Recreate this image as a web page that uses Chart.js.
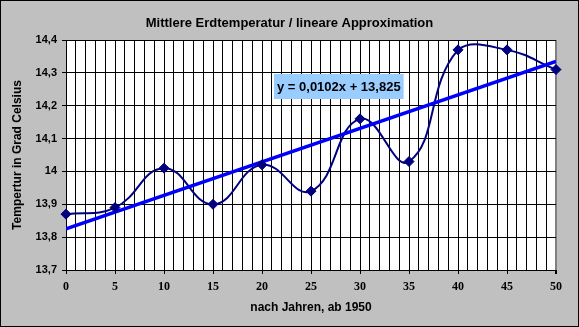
<!DOCTYPE html>
<html lang="de">
<head>
<meta charset="utf-8">
<title>Mittlere Erdtemperatur</title>
<script src="https://cdn.jsdelivr.net/npm/chart.js@4/dist/chart.umd.min.js"></script>
<style>
  html, body { margin: 0; padding: 0; background: #c0c0c0; }
  #wrap { width: 579px; height: 327px; position: relative; }
</style>
</head>
<body>
<div id="wrap"><canvas id="tempChart" width="579" height="327"></canvas></div>
<script>
// Jahre ab 1950 und gemessene Mittelwerte
const years = [0, 5, 10, 15, 20, 25, 30, 35, 40, 45, 50];
const temps = [13.87, 13.89, 14.01, 13.90, 14.02, 13.94, 14.16, 14.03, 14.37, 14.37, 14.31];

// lineare Trendlinie y = a*x + b
const trendSlope = 0.0102;
const trendIntercept = 13.825;
const trendLabel = 'y = 0,0102x + 13,825';

const yTicks = [13.7, 13.8, 13.9, 14, 14.1, 14.2, 14.3, 14.4];
const xLabelStep = 5;

const chartTitle = 'Mittlere Erdtemperatur / lineare Approximation';
const yTitle = 'Tempertur in Grad Celsius';
const xTitle = 'nach Jahren, ab 1950';

const NAVY = '#000080';
const BLUE = '#0000ff';

function formatComma(v) {
  return String(Number(v.toFixed(1))).replace('.', ',');
}

// grauer Hintergrund, Rahmen, Titel und Gleichungsfeld
const frame = {
  id: 'frame',
  beforeDraw(chart) {
    const ctx = chart.ctx;
    ctx.save();
    ctx.fillStyle = '#c0c0c0';
    ctx.fillRect(0, 0, chart.width, chart.height);
    const a = chart.chartArea;
    ctx.fillStyle = '#ffffff';
    ctx.fillRect(a.left, a.top, a.right - a.left, a.bottom - a.top);
    ctx.restore();
  },
  afterDraw(chart) {
    const ctx = chart.ctx;
    ctx.save();
    ctx.strokeStyle = '#000000';
    ctx.lineWidth = 1;
    ctx.strokeRect(0.5, 0.5, chart.width - 1, chart.height - 1);

    ctx.fillStyle = '#000000';
    ctx.font = 'bold 13px "Liberation Sans", Arial, sans-serif';
    ctx.textAlign = 'center';
    ctx.textBaseline = 'alphabetic';
    ctx.fillText(chartTitle, chart.width / 2, 27);

    // Gleichung der Trendlinie
    ctx.font = 'bold 13px "Liberation Sans", Arial, sans-serif';
    const w = ctx.measureText(trendLabel).width;
    const bx = 274, by = 74;
    ctx.fillStyle = '#99ccff';
    ctx.fillRect(bx, by, w + 6, 25);
    ctx.fillStyle = '#000000';
    ctx.textAlign = 'left';
    ctx.fillText(trendLabel, bx + 3, by + 17);
    ctx.restore();
  }
};

function renderChart() {
  const ctx = document.getElementById('tempChart');
  const first = years[0];
  const last = years[years.length - 1];
  const trend = [
    { x: first, y: trendSlope * first + trendIntercept },
    { x: last, y: trendSlope * last + trendIntercept }
  ];
  const points = years.map((x, i) => ({ x, y: temps[i] }));

  new Chart(ctx, {
    type: 'line',
    data: {
      datasets: [
        {
          // Rauten obenauf, auch am Rand ganz sichtbar
          data: points,
          showLine: false,
          clip: false,
          pointStyle: 'rectRot',
          pointRadius: 5,
          pointBackgroundColor: NAVY,
          pointBorderColor: NAVY,
          pointBorderWidth: 1
        },
        {
          data: trend,
          borderColor: BLUE,
          borderWidth: 3.5,
          pointRadius: 0,
          tension: 0
        },
        {
          data: points,
          borderColor: NAVY,
          borderWidth: 2,
          pointRadius: 0,
          tension: 0.45
        }
      ]
    },
    options: {
      responsive: false,
      animation: false,
      layout: { padding: { top: 40, right: 23, bottom: 1, left: 1 } },
      plugins: {
        legend: { display: false },
        tooltip: { enabled: false }
      },
      scales: {
        x: {
          type: 'linear',
          min: first,
          max: last,
          afterFit: (s) => { s.height = 56; },
          ticks: {
            stepSize: 1,
            autoSkip: false,
            maxRotation: 0,
            padding: 6,
            color: '#000000',
            font: { family: '"Liberation Serif", "Times New Roman", serif', size: 12, weight: 'bold' },
            callback: (v) => (v % xLabelStep === 0 ? String(v) : '')
          },
          grid: {
            color: (c) => (c.tick && c.tick.value === last ? '#808080' : '#000000'),
            lineWidth: (c) => (c.tick && c.tick.value === last ? 2 : 1),
            tickLength: 4,
            tickColor: (c) => (c.tick && c.tick.value % xLabelStep === 0 ? '#000000' : 'rgba(0,0,0,0)')
          },
          border: { color: '#000000', width: 1 },
          title: {
            display: true,
            text: xTitle,
            color: '#000000',
            font: { family: '"Liberation Sans", Arial, sans-serif', size: 12, weight: 'bold' },
            padding: { top: 0, bottom: 11 }
          }
        },
        y: {
          min: yTicks[0],
          max: yTicks[yTicks.length - 1],
          afterFit: (s) => { s.width = 65; },
          afterBuildTicks: (s) => { s.ticks = yTicks.map((v) => ({ value: v })); },
          ticks: {
            padding: 5,
            color: '#000000',
            font: { family: '"Liberation Sans", Arial, sans-serif', size: 11, weight: 'bold' },
            callback: (v) => formatComma(v)
          },
          grid: {
            color: '#000000',
            lineWidth: 1,
            tickLength: 4,
            tickColor: '#000000'
          },
          border: { color: '#000000', width: 1 },
          title: {
            display: true,
            text: yTitle,
            color: '#000000',
            font: { family: '"Liberation Sans", Arial, sans-serif', size: 12, weight: 'bold' },
            padding: { top: 9, bottom: 0 }
          }
        }
      }
    },
    plugins: [frame]
  });
}

document.addEventListener('DOMContentLoaded', () => {
  renderChart();
});
</script>
</body>
</html>
